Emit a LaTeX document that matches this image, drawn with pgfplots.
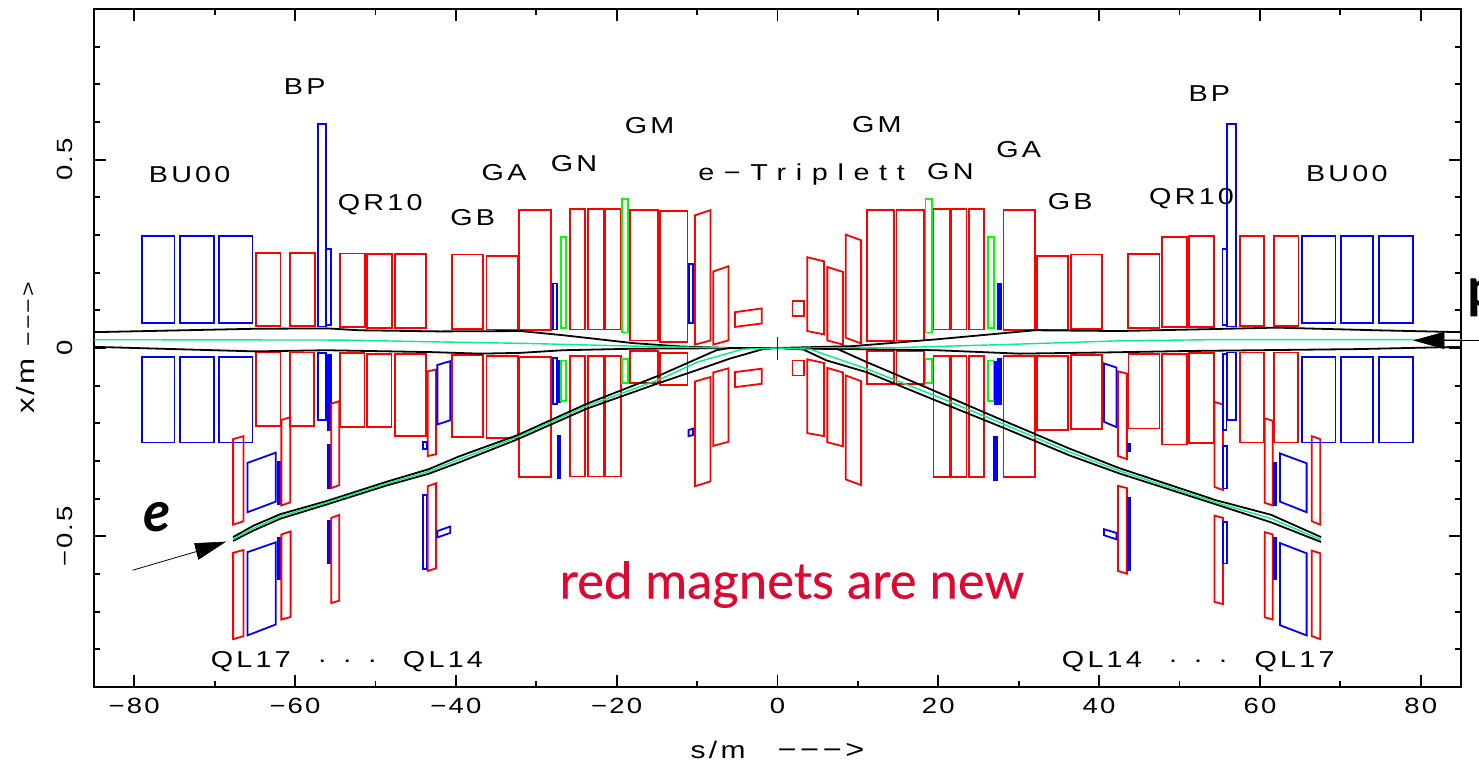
\documentclass[border=0pt]{standalone}
\usepackage{fontspec}
\setmainfont{Liberation Sans}
\newfontfamily\gks{Liberation Sans}[FakeStretch=1.25,LetterSpace=10]
\newfontfamily\gkl{Liberation Sans}[FakeStretch=1.25,LetterSpace=14]
\newfontfamily\gkw{Liberation Sans}[FakeStretch=1.25,LetterSpace=42]
\newfontfamily\hand{Lato}[FakeBold=0.4]
\newfontfamily\handb{Lato}
\usepackage{pgfplots}
\pgfplotsset{compat=1.18}
\definecolor{beamgreen}{RGB}{0,240,130}
\definecolor{newred}{RGB}{222,8,48}
\newcommand\Mg[5]{\addplot[#1,line width=0.9pt,line join=miter] coordinates {(#2,#4)(#3,#4)(#3,#5)(#2,#5)} --cycle;}
\newcommand\Mf[5]{\addplot[#1,fill=#1,line width=0.5pt] coordinates {(#2,#4)(#3,#4)(#3,#5)(#2,#5)} --cycle;}
\newcommand\Pg[2]{\addplot[#1,line width=0.9pt,line join=miter] coordinates {#2} --cycle;}
\begin{document}
\begin{tikzpicture}
\useasboundingbox (-47pt,-36.5pt) rectangle (692.5pt,343.5pt);
\begin{axis}[
  scale only axis, width=683.5pt, height=339pt,
  xmin=-85, xmax=85, ymin=-0.9, ymax=0.9,
  clip=false,
  axis line style={line width=1.1pt},
  tick style={black,line width=0.9pt},
  major tick length=6.2pt, minor tick length=3.2pt,
  tick align=inside,
  xtick={-80,-60,-40,-20,0,20,40,60,80},
  xticklabels={−80,−60,−40,−20,0,20,40,60,80},
  minor xtick={-70,-50,-30,-10,10,30,50,70},
  ytick={-0.5,0,0.5},
  yticklabels={−0.5,0,0.5},
  minor ytick={-0.8,-0.7,-0.6,-0.4,-0.3,-0.2,-0.1,0.1,0.2,0.3,0.4,0.6,0.7,0.8},
  tick label style={font=\gks\fontsize{11}{12}\selectfont},
  xticklabel style={anchor=center,yshift=-9.3pt},
  yticklabel style={rotate=90,anchor=center,yshift=14.5pt},
  xlabel={s/m\hspace{16pt}{\fontsize{13}{12}\selectfont −−−>}},
  ylabel={{\fontsize{12.5}{12}\selectfont x/m}\hspace{6pt}{\fontsize{10}{12}\selectfont −−−>}},
  x label style={font=\gkl\fontsize{12}{12}\selectfont,at={(axis description cs:0.5,0)},anchor=center,yshift=-31.5pt},
  y label style={font=\gks\fontsize{11}{12}\selectfont,at={(axis description cs:0,0.5)},anchor=center,yshift=34pt},
]
% upper row, left
\Mg{blue}{-79.0}{-75.0}{0.297}{0.066}
\Mg{blue}{-74.3}{-70.1}{0.297}{0.066}
\Mg{blue}{-69.5}{-65.3}{0.297}{0.066}
\Mg{red}{-64.9}{-61.8}{0.253}{0.058}
\Mg{red}{-60.6}{-57.5}{0.253}{0.058}
\Mg{blue}{-57.1}{-56.1}{0.594}{0.057}
\Mg{blue}{-56.1}{-55.5}{0.263}{0.062}
\Mg{red}{-54.4}{-51.3}{0.251}{0.056}
\Mg{red}{-51.0}{-47.9}{0.250}{0.054}
\Mg{red}{-47.6}{-43.7}{0.250}{0.053}
\Mg{red}{-40.5}{-36.6}{0.248}{0.050}
\Mg{red}{-36.2}{-32.3}{0.245}{0.049}
\Mg{red}{-32.1}{-28.2}{0.366}{0.047}
\Mg{blue}{-27.9}{-27.4}{0.171}{0.049}
\Mg{green}{-26.9}{-26.3}{0.295}{0.054}
\Mg{red}{-25.8}{-23.9}{0.369}{0.049}
\Mg{red}{-23.6}{-21.6}{0.369}{0.049}
\Mg{red}{-21.4}{-19.5}{0.369}{0.049}
\Mg{green}{-19.3}{-18.6}{0.396}{0.041}
\Mg{red}{-18.3}{-14.9}{0.367}{0.020}
\Mg{red}{-14.6}{-11.2}{0.363}{0.015}
\Mg{blue}{-11.05}{-10.5}{0.224}{0.066}
\Pg{red}{(-10.27,0.352)(-8.32,0.366)(-8.32,0.020)(-10.27,0.009)}
\Pg{red}{(-8.0,0.203)(-6.09,0.217)(-6.09,0.020)(-8.0,0.009)}
\Pg{red}{(-5.3,0.095)(-1.95,0.105)(-1.95,0.065)(-5.3,0.056)}
% upper row, right
\Mg{red}{1.86}{3.3}{0.125}{0.085}
\Pg{red}{(3.7,0.241)(5.8,0.230)(5.8,0.036)(3.7,0.045)}
\Pg{red}{(6.2,0.215)(8.15,0.202)(8.15,0.009)(6.2,0.020)}
\Pg{red}{(8.5,0.301)(10.4,0.286)(10.4,0.012)(8.5,0.027)}
\Mg{red}{11.1}{14.5}{0.366}{0.019}
\Mg{red}{14.8}{18.2}{0.366}{0.020}
\Mg{green}{18.4}{19.2}{0.396}{0.041}
\Mg{red}{19.4}{21.4}{0.369}{0.049}
\Mg{red}{21.6}{23.5}{0.369}{0.049}
\Mg{red}{23.8}{25.7}{0.369}{0.049}
\Mg{green}{26.2}{26.9}{0.295}{0.054}
\Mf{blue}{27.4}{27.8}{0.172}{0.048}
\Mg{red}{28.1}{32.05}{0.366}{0.047}
\Mg{red}{32.3}{36.1}{0.245}{0.049}
\Mg{red}{36.5}{40.4}{0.248}{0.050}
\Mg{red}{43.55}{47.5}{0.250}{0.053}
\Mg{red}{47.8}{50.9}{0.295}{0.055}
\Mg{red}{51.2}{54.3}{0.297}{0.056}
\Mg{blue}{55.35}{55.95}{0.263}{0.062}
\Mg{blue}{55.95}{57.0}{0.594}{0.057}
\Mg{red}{57.5}{60.5}{0.297}{0.058}
\Mg{red}{61.7}{64.8}{0.297}{0.058}
\Mg{blue}{65.2}{69.4}{0.297}{0.066}
\Mg{blue}{70.1}{74.1}{0.297}{0.066}
\Mg{blue}{74.8}{79.0}{0.297}{0.066}
% lower row, left
\Mg{blue}{-79.0}{-75.0}{-0.024}{-0.251}
\Mg{blue}{-74.3}{-70.1}{-0.024}{-0.251}
\Mg{blue}{-69.5}{-65.3}{-0.024}{-0.251}
\Mg{red}{-64.9}{-61.8}{-0.012}{-0.208}
\Mg{red}{-60.6}{-57.6}{-0.012}{-0.208}
\Mg{blue}{-57.1}{-56.1}{-0.013}{-0.192}
\Mf{blue}{-55.95}{-55.5}{-0.017}{-0.218}
\Mg{red}{-54.4}{-51.35}{-0.013}{-0.210}
\Mg{red}{-51.0}{-48.0}{-0.016}{-0.210}
\Mg{red}{-47.6}{-43.7}{-0.017}{-0.234}
\Pg{red}{(-67.7,-0.242)(-66.4,-0.234)(-66.4,-0.460)(-67.7,-0.469)}
\Pg{blue}{(-65.9,-0.305)(-62.4,-0.278)(-62.4,-0.408)(-65.9,-0.436)}
\Mf{blue}{-62.2}{-61.7}{-0.302}{-0.415}
\Pg{red}{(-61.7,-0.191)(-60.6,-0.184)(-60.6,-0.410)(-61.7,-0.418)}
\Mf{blue}{-55.95}{-55.45}{-0.256}{-0.372}
\Pg{red}{(-55.5,-0.148)(-54.5,-0.141)(-54.5,-0.364)(-55.5,-0.372)}
\Pg{red}{(-43.5,-0.062)(-42.45,-0.057)(-42.45,-0.282)(-43.5,-0.287)}
\Pg{blue}{(-42.3,-0.045)(-40.7,-0.035)(-40.7,-0.192)(-42.3,-0.203)}
\Mg{blue}{-44.05}{-43.6}{-0.249}{-0.268}
\Pg{red}{(-67.7,-0.544)(-66.4,-0.536)(-66.4,-0.765)(-67.7,-0.773)}
\Pg{blue}{(-65.9,-0.542)(-62.4,-0.516)(-62.4,-0.734)(-65.9,-0.763)}
\Mf{blue}{-62.2}{-61.7}{-0.502}{-0.615}
\Pg{red}{(-61.7,-0.495)(-60.55,-0.487)(-60.55,-0.714)(-61.7,-0.721)}
\Mf{blue}{-55.95}{-55.45}{-0.457}{-0.571}
\Pg{red}{(-55.5,-0.451)(-54.5,-0.443)(-54.5,-0.671)(-55.5,-0.677)}
\Mg{blue}{-44.05}{-43.55}{-0.391}{-0.587}
\Pg{red}{(-43.5,-0.367)(-42.45,-0.359)(-42.45,-0.585)(-43.5,-0.592)}
\Pg{blue}{(-42.3,-0.486)(-40.7,-0.474)(-40.7,-0.491)(-42.3,-0.503)}
\Mg{red}{-40.5}{-36.6}{-0.019}{-0.237}
\Mg{red}{-36.2}{-32.3}{-0.021}{-0.239}
\Mg{red}{-32.1}{-28.2}{-0.024}{-0.342}
\Mg{blue}{-27.9}{-27.4}{-0.027}{-0.149}
\Mf{blue}{-27.4}{-27.0}{-0.033}{-0.146}
\Mg{green}{-26.9}{-26.3}{-0.033}{-0.141}
\Mf{blue}{-27.4}{-27.0}{-0.233}{-0.347}
\Mg{red}{-25.8}{-23.9}{-0.021}{-0.341}
\Mg{red}{-23.6}{-21.6}{-0.021}{-0.341}
\Mg{red}{-21.4}{-19.5}{-0.021}{-0.341}
\Mg{green}{-19.3}{-18.6}{-0.029}{-0.092}
\Mg{red}{-18.3}{-14.9}{-0.009}{-0.093}
\Mg{red}{-14.6}{-11.2}{-0.013}{-0.098}
\Pg{blue}{(-11.05,-0.218)(-10.5,-0.214)(-10.5,-0.231)(-11.05,-0.234)}
\Pg{red}{(-10.27,-0.089)(-8.32,-0.077)(-8.32,-0.354)(-10.27,-0.367)}
\Pg{red}{(-8.0,-0.065)(-6.09,-0.054)(-6.09,-0.249)(-8.0,-0.260)}
\Pg{red}{(-5.3,-0.064)(-1.95,-0.055)(-1.95,-0.095)(-5.3,-0.104)}
% lower row, right
\Mg{red}{1.86}{3.3}{-0.033}{-0.073}
\Pg{red}{(3.7,-0.030)(5.8,-0.040)(5.8,-0.234)(3.7,-0.226)}
\Pg{red}{(6.2,-0.053)(8.15,-0.065)(8.15,-0.261)(6.2,-0.250)}
\Pg{red}{(8.5,-0.073)(10.4,-0.088)(10.4,-0.364)(8.5,-0.349)}
\Mg{red}{11.1}{14.5}{-0.009}{-0.096}
\Mg{red}{14.8}{18.2}{-0.009}{-0.095}
\Mg{green}{18.4}{19.2}{-0.029}{-0.092}
\Mg{red}{19.4}{21.4}{-0.021}{-0.342}
\Mg{red}{21.6}{23.5}{-0.021}{-0.342}
\Mg{red}{23.8}{25.7}{-0.021}{-0.342}
\Mg{green}{26.2}{26.85}{-0.033}{-0.140}
\Mf{blue}{26.95}{27.4}{-0.037}{-0.150}
\Mf{blue}{27.4}{27.8}{-0.027}{-0.150}
\Mf{blue}{26.9}{27.33}{-0.236}{-0.351}
\Mg{red}{28.1}{32.05}{-0.021}{-0.342}
\Mg{red}{32.3}{36.1}{-0.021}{-0.218}
\Mg{red}{36.5}{40.4}{-0.019}{-0.216}
\Pg{blue}{(40.6,-0.041)(42.15,-0.052)(42.15,-0.210)(40.6,-0.196)}
\Pg{red}{(42.35,-0.062)(43.45,-0.068)(43.45,-0.295)(42.35,-0.287)}
\Mg{red}{43.65}{47.5}{-0.017}{-0.214}
\Mg{red}{47.8}{50.9}{-0.016}{-0.256}
\Mg{red}{51.2}{54.25}{-0.013}{-0.253}
\Pg{red}{(54.35,-0.143)(55.4,-0.150)(55.4,-0.377)(54.35,-0.369)}
\Mg{blue}{55.4}{55.85}{-0.017}{-0.218}
\Mg{blue}{55.95}{57.0}{-0.012}{-0.192}
\Mg{blue}{55.4}{55.9}{-0.261}{-0.373}
\Mg{red}{57.5}{60.5}{-0.012}{-0.251}
\Mg{red}{61.75}{64.75}{-0.012}{-0.251}
\Pg{red}{(60.6,-0.187)(61.6,-0.193)(61.6,-0.418)(60.6,-0.411)}
\Mf{blue}{61.65}{62.05}{-0.303}{-0.417}
\Pg{blue}{(62.5,-0.280)(65.8,-0.306)(65.8,-0.436)(62.5,-0.408)}
\Pg{red}{(66.45,-0.234)(67.5,-0.242)(67.5,-0.469)(66.45,-0.460)}
\Mg{blue}{65.2}{69.4}{-0.024}{-0.251}
\Mg{blue}{70.1}{74.1}{-0.024}{-0.251}
\Mg{blue}{74.8}{79.0}{-0.024}{-0.251}
\Mf{blue}{43.5}{43.9}{-0.253}{-0.274}
\Pg{red}{(42.35,-0.366)(43.45,-0.372)(43.45,-0.599)(42.35,-0.592)}
\Mf{blue}{43.5}{43.9}{-0.396}{-0.592}
\Pg{blue}{(40.6,-0.481)(42.15,-0.491)(42.15,-0.508)(40.6,-0.497)}
\Pg{red}{(54.35,-0.445)(55.4,-0.451)(55.4,-0.680)(54.35,-0.674)}
\Mg{blue}{55.4}{55.9}{-0.462}{-0.572}
\Pg{red}{(60.6,-0.489)(61.6,-0.495)(61.6,-0.721)(60.6,-0.715)}
\Mf{blue}{61.65}{62.05}{-0.503}{-0.615}
\Pg{blue}{(62.5,-0.518)(65.8,-0.545)(65.8,-0.763)(62.5,-0.736)}
\Pg{red}{(66.45,-0.538)(67.5,-0.545)(67.5,-0.773)(66.45,-0.765)}
% centre mark
\addplot[blue,line width=0.7pt] coordinates {(0,0.030)(0,-0.033)};
% proton beam
\addplot[black,line width=0.9pt] coordinates {(-85,0.042)(-65,0.051)(-56,0.052)(-52,0.047)(-42,0.044)(-32,0.045)(-26.7,0.034)(-18,0.013)(-12,0.004)(-6,0)(0,0)(9.4,0.005)(19.8,0.023)(32,0.047)(42.5,0.045)(53.7,0.050)(62,0.054)(74.5,0.047)(85,0.042)};
\addplot[black,line width=0.9pt] coordinates {(-85,0.003)(-65,-0.009)(-56,-0.006)(-43,-0.011)(-37,-0.015)(-32,-0.013)(-26.7,-0.006)(-18,-0.002)(-2,0)(0,0)(19.8,-0.006)(30,-0.015)(40.4,-0.012)(51,-0.008)(59.5,-0.006)(72,-0.003)(85,0.003)};
\addplot[beamgreen,line width=0.7pt] coordinates {(-85,0.022)(-54,0.021)(-42,0.016)(-31,0.012)(-18,0.005)(-6,0)(0,0)(15,0.001)(28,0.009)(42.5,0.019)(54,0.022)(85,0.022)};
% electron beam, left
\addplot[black,line width=0.9pt] coordinates {(-67.7,-0.502)(-65.1,-0.471)(-61.8,-0.441)(-56,-0.406)(-48.6,-0.355)(-43.4,-0.322)(-39.5,-0.287)(-32.4,-0.232)(-23.7,-0.148)(-14.6,-0.072)(-7.6,-0.006)(-6,0)(0,0)};
\addplot[black,line width=0.9pt] coordinates {(-67.7,-0.512)(-65.1,-0.484)(-61.8,-0.453)(-56,-0.415)(-48.6,-0.365)(-43.4,-0.334)(-39.5,-0.303)(-32.4,-0.243)(-23.7,-0.161)(-14.6,-0.092)(-10.06,-0.059)(-5.9,-0.028)(-1.8,-0.003)(0,0)};
\addplot[beamgreen,line width=0.7pt] coordinates {(-67.7,-0.508)(-65.1,-0.478)(-61.8,-0.447)(-56,-0.410)(-48.6,-0.360)(-43.4,-0.328)(-39.5,-0.295)(-32.4,-0.237)(-23.7,-0.154)(-14.6,-0.083)(-9.9,-0.037)(-4.3,-0.003)(0,0)};
% electron beam, right
\addplot[black,line width=0.9pt] coordinates {(0,0)(7.5,-0.003)(11.05,-0.037)(19.3,-0.112)(28,-0.192)(36.3,-0.267)(42.5,-0.319)(54.5,-0.404)(61.4,-0.443)(67.6,-0.502)};
\addplot[black,line width=0.9pt] coordinates {(0,0)(3.2,-0.004)(6.1,-0.033)(11.05,-0.064)(19.3,-0.136)(28,-0.211)(36.3,-0.285)(42.5,-0.333)(54.5,-0.415)(61.4,-0.463)(67.6,-0.515)};
\addplot[beamgreen,line width=0.7pt] coordinates {(0,0)(4,-0.003)(11.05,-0.055)(19.3,-0.124)(28,-0.201)(36.3,-0.276)(42.5,-0.326)(54.5,-0.410)(61.4,-0.453)(67.6,-0.509)};
% arrows
\addplot[black,fill=black,line width=0.3pt] coordinates {(79.2,0.020)(82.9,0.042)(82.9,-0.002)} --cycle;
\addplot[black,line width=0.4pt] coordinates {(82.9,0.020)(87.5,0.020)};
\addplot[black,fill=black,line width=0.3pt] coordinates {(-68.7,-0.515)(-72.5,-0.519)(-72,-0.561)} --cycle;
\addplot[black,line width=0.4pt] coordinates {(-80.2,-0.590)(-72.2,-0.540)};
% labels
\begin{scope}[every node/.style={font=\gkl\fontsize{11.5}{12}\selectfont,anchor=center,inner sep=0pt,black}]
\node at (axis cs:-73.1,0.460) {BU00};
\node at (axis cs:-58.8,0.695) {BP};
\node at (axis cs:-49.4,0.381) {QR10};
\node at (axis cs:-37.9,0.347) {GB};
\node at (axis cs:-34,0.466) {GA};
\node at (axis cs:-25.3,0.490) {GN};
\node at (axis cs:-15.9,0.591) {GM};
\node[font=\gkw\fontsize{11.5}{12}\selectfont] at (axis cs:3.0,0.461) {e−Triplett};
\node at (axis cs:12.35,0.594) {GM};
\node at (axis cs:21.5,0.468) {GN};
\node at (axis cs:30,0.527) {GA};
\node at (axis cs:36.4,0.389) {GB};
\node at (axis cs:51.5,0.397) {QR10};
\node at (axis cs:53.7,0.676) {BP};
\node at (axis cs:70.8,0.464) {BU00};
\node at (axis cs:-65.5,-0.832) {QL17};
\node at (axis cs:-53.5,-0.832) {.\hspace{8.5pt}.\hspace{8.5pt}.};
\node at (axis cs:-41.6,-0.832) {QL14};
\node at (axis cs:40.35,-0.832) {QL14};
\node at (axis cs:52.3,-0.832) {.\hspace{8.5pt}.\hspace{8.5pt}.};
\node at (axis cs:64.3,-0.832) {QL17};
\end{scope}
\node[font=\hand\fontsize{25.4}{27}\selectfont,text=newred,anchor=center,inner sep=0pt] at (axis cs:1.8,-0.628) {red magnets are new};
\node[font=\handb\itshape\bfseries\fontsize{28}{30}\selectfont,anchor=center,inner sep=0pt] at (axis cs:-77.1,-0.449) {e};
\node[font=\handb\bfseries\fontsize{28}{30}\selectfont,anchor=west,inner sep=0pt] at (axis cs:85.7,0.135) {p};
\end{axis}
\end{tikzpicture}
\end{document}
